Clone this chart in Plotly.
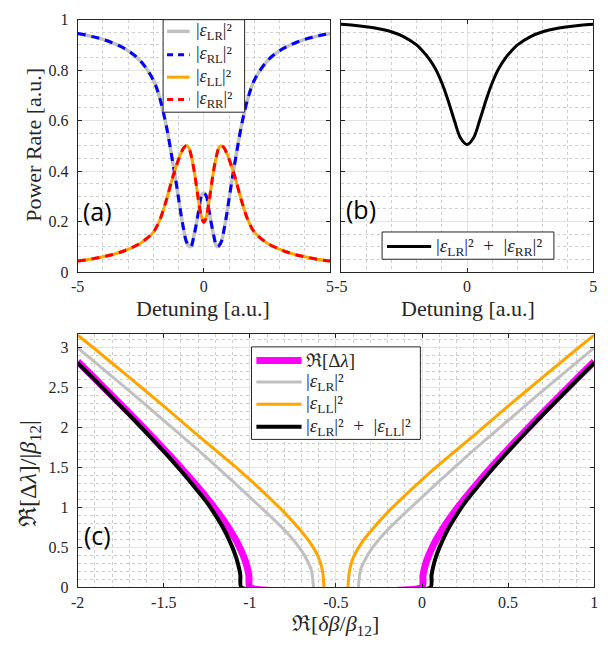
import plotly.graph_objects as go

# ---------------- Panel (a) data ----------------
det_a = [-5, -4.5, -4, -3.5, -3, -2.5, -2, -1.75, -1.5, -1.25, -1.1, -1.0, -0.9, -0.8, -0.7, -0.6, -0.55, -0.5,
         -0.4, -0.3, -0.2, -0.1, 0, 0.1, 0.2, 0.3, 0.4, 0.5, 0.55, 0.6, 0.7, 0.8, 0.9, 1.0, 1.1, 1.25, 1.5,
         1.75, 2, 2.5, 3, 3.5, 4, 4.5, 5]
p_lr = [0.945, 0.935, 0.922, 0.903, 0.877, 0.835, 0.76, 0.69, 0.585, 0.445, 0.355, 0.29, 0.225, 0.168, 0.122, 0.104, 0.10, 0.102,
        0.14, 0.19, 0.245, 0.30, 0.313, 0.30, 0.245, 0.19, 0.14, 0.102, 0.10, 0.104, 0.122, 0.168, 0.225, 0.29, 0.355, 0.445, 0.585,
        0.69, 0.76, 0.835, 0.877, 0.903, 0.922, 0.935, 0.945]
p_rl = list(p_lr)
p_ll = [0.043, 0.05, 0.06, 0.072, 0.09, 0.115, 0.158, 0.205, 0.28, 0.37, 0.418, 0.447, 0.472, 0.492, 0.50, 0.493, 0.48, 0.46,
        0.41, 0.345, 0.275, 0.22, 0.197, 0.22, 0.275, 0.345, 0.41, 0.46, 0.48, 0.493, 0.50, 0.492, 0.472, 0.447, 0.418, 0.37, 0.28,
        0.205, 0.158, 0.115, 0.09, 0.072, 0.06, 0.05, 0.043]
p_rr = list(p_ll)

# ---------------- Panel (b) data ----------------
det_b = [-5, -4.5, -4, -3.5, -3, -2.5, -2, -1.75, -1.5, -1.25, -1, -0.75, -0.5, -0.25, 0,
         0.25, 0.5, 0.75, 1, 1.25, 1.5, 1.75, 2, 2.5, 3, 3.5, 4, 4.5, 5]
p_sum = [0.982, 0.978, 0.972, 0.964, 0.952, 0.932, 0.90, 0.875, 0.845, 0.805, 0.75, 0.68, 0.60, 0.53, 0.505,
         0.53, 0.60, 0.68, 0.75, 0.805, 0.845, 0.875, 0.90, 0.932, 0.952, 0.964, 0.972, 0.978, 0.982]

# ---------------- Panel (c) data ----------------
db_mag = [-2, -1.9, -1.8, -1.7, -1.6, -1.5, -1.4, -1.3, -1.25, -1.2, -1.15, -1.1, -1.08, -1.05, -1.03, -1.02, -1.01, -1.005, -1.0,
          0.0, 0.005, 0.01, 0.02, 0.03, 0.05, 0.08, 0.1, 0.15, 0.2, 0.25, 0.3, 0.4, 0.5, 0.6, 0.7, 0.8, 0.9, 1.0]
re_dl = [2.828, 2.615, 2.400, 2.182, 1.960, 1.732, 1.497, 1.249, 1.118, 0.980, 0.831, 0.663, 0.588, 0.458, 0.352, 0.286, 0.201, 0.142, 0,
         0, 0.142, 0.201, 0.286, 0.352, 0.458, 0.588, 0.663, 0.831, 0.980, 1.118, 1.249, 1.497, 1.732, 1.960, 2.182, 2.400, 2.615, 2.828]

db_lr = [-2, -1.9, -1.7, -1.5, -1.3, -1.1, -1.0, -0.9, -0.8, -0.75, -0.7, -0.67, -0.65, -0.64, -0.63, None,
         -0.37, -0.36, -0.35, -0.33, -0.3, -0.25, -0.2, -0.1, 0, 0.1, 0.3, 0.5, 0.7, 0.9, 1.0]
c_lr = [3.0, 2.82, 2.46, 2.09, 1.72, 1.33, 1.13, 0.93, 0.72, 0.60, 0.46, 0.35, 0.26, 0.19, 0, None,
        0, 0.19, 0.26, 0.35, 0.46, 0.60, 0.72, 0.93, 1.13, 1.33, 1.72, 2.09, 2.46, 2.82, 3.0]

db_ll = [-2, -1.9, -1.7, -1.5, -1.3, -1.1, -1.0, -0.9, -0.8, -0.7, -0.65, -0.6, -0.585, -0.575, -0.57, None,
         -0.43, -0.425, -0.415, -0.4, -0.35, -0.3, -0.2, -0.1, 0.0, 0.1, 0.3, 0.5, 0.7, 0.9, 1.0]
c_ll = [3.16, 2.985, 2.63, 2.27, 1.90, 1.54, 1.35, 1.15, 0.94, 0.70, 0.56, 0.37, 0.27, 0.16, 0, None,
        0, 0.16, 0.27, 0.37, 0.56, 0.70, 0.94, 1.15, 1.35, 1.54, 1.90, 2.27, 2.63, 2.985, 3.16]

db_sum = [-2, -1.9, -1.8, -1.7, -1.6, -1.5, -1.4, -1.3, -1.25, -1.2, -1.15, -1.1, -1.08, -1.07, -1.06, -1.055, -1.05,
          0.05, 0.055, 0.06, 0.07, 0.08, 0.1, 0.15, 0.2, 0.25, 0.3, 0.4, 0.5, 0.6, 0.7, 0.8, 0.9, 1.0]
c_sum = [2.812, 2.598, 2.380, 2.160, 1.935, 1.703, 1.460, 1.200, 1.065, 0.905, 0.725, 0.495, 0.375, 0.303, 0.213, 0.150, 0,
         0, 0.150, 0.213, 0.303, 0.375, 0.495, 0.725, 0.905, 1.065, 1.200, 1.460, 1.703, 1.935, 2.160, 2.380, 2.598, 2.812]

# tick labels
a_xticks = [-5, 0, 5]
a_xtext = ["-5", "0", "5"]
a_yticks = [0, 0.2, 0.4, 0.6, 0.8, 1]
a_ytext = ["0", "0.2", "0.4", "0.6", "0.8", "1"]
c_xticks = [-2, -1.5, -1, -0.5, 0, 0.5, 1]
c_xtext = ["-2", "-1.5", "-1", "-0.5", "0", "0.5", "1"]
c_yticks = [0, 0.5, 1, 1.5, 2, 2.5, 3]
c_ytext = ["0", "0.5", "1", "1.5", "2", "2.5", "3"]

SERIF = "Liberation Serif, Times New Roman, serif"
SANS = "Open Sans"
AX = "#262626"
GRID = "#e3e3e3"
MINOR = "#cfcfcf"
GRAY = "#c0c0c0"
BLUE = "#0000ff"
ORANGE = "#ffa500"
RED = "#ff0000"
MAGENTA = "#ff00ff"
DASH = "8px,6px"

def lr(s):
    return "|<i>ε</i><sub>%s</sub>|²" % s

PLUS = "\u2002+\u2002"
names_a = [lr("LR"), lr("RL"), lr("LL"), lr("RR")]
names_b = [lr("LR") + PLUS + lr("RR")]
names_c = ["ℜ[Δ<i>λ</i>]", lr("LR"), lr("LL"), lr("LR") + PLUS + lr("LL")]

fig = go.Figure()

# panel a
fig.add_trace(go.Scatter(x=det_a, y=p_lr, mode="lines", name=names_a[0], line=dict(color=GRAY, width=3.5, shape="spline"),
                         xaxis="x", yaxis="y"))
fig.add_trace(go.Scatter(x=det_a, y=p_rl, mode="lines", name=names_a[1], line=dict(color=BLUE, width=3, dash=DASH, shape="spline"),
                         xaxis="x", yaxis="y"))
fig.add_trace(go.Scatter(x=det_a, y=p_ll, mode="lines", name=names_a[2], line=dict(color=ORANGE, width=3, shape="spline"),
                         xaxis="x", yaxis="y"))
fig.add_trace(go.Scatter(x=det_a, y=p_rr, mode="lines", name=names_a[3], line=dict(color=RED, width=3, dash=DASH, shape="spline"),
                         xaxis="x", yaxis="y"))
# panel b
fig.add_trace(go.Scatter(x=det_b, y=p_sum, mode="lines", name=names_b[0],
                         line=dict(color="black", width=3, shape="spline"), xaxis="x2", yaxis="y2"))
# panel c
fig.add_trace(go.Scatter(x=db_mag, y=re_dl, mode="lines", name=names_c[0], line=dict(color=MAGENTA, width=7, shape="spline", smoothing=0.5),
                         xaxis="x3", yaxis="y3"))
fig.add_trace(go.Scatter(x=db_lr, y=c_lr, mode="lines", name=names_c[1], line=dict(color=GRAY, width=3, shape="spline", smoothing=0.6),
                         xaxis="x3", yaxis="y3", connectgaps=False))
fig.add_trace(go.Scatter(x=db_ll, y=c_ll, mode="lines", name=names_c[2], line=dict(color=ORANGE, width=3, shape="spline", smoothing=0.6),
                         xaxis="x3", yaxis="y3", connectgaps=False))
fig.add_trace(go.Scatter(x=db_sum, y=c_sum, mode="lines", name=names_c[3], line=dict(color="black", width=4, shape="spline", smoothing=0.5),
                         xaxis="x3", yaxis="y3"))

def axis(**kw):
    d = dict(showline=True, linecolor=AX, linewidth=1, mirror="ticks", ticks="inside", ticklen=4, tickcolor=AX,
             showgrid=True, gridcolor=GRID, gridwidth=1, zeroline=False,
             tickfont=dict(family=SERIF, size=16, color=AX), ticklabelstandoff=0)
    d.update(kw)
    return d

W, H = 608, 649
def px(x):
    return x / W
def py(y):
    return 1 - y / H

ya_dom = [0.5824, 0.9815]
yc_dom = [0.0832, 0.4838]
fig.update_layout(
    width=W, height=H, margin=dict(l=0, r=0, t=0, b=0),
    paper_bgcolor="white", plot_bgcolor="white", showlegend=False,
    xaxis=axis(domain=[0.1184, 0.5411], range=[-5, 5], anchor="y", tickvals=a_xticks, ticktext=a_xtext,
               minor=dict(dtick=1, showgrid=True, gridcolor=MINOR, griddash="dot", gridwidth=1)),
    yaxis=axis(domain=ya_dom, range=[0, 1], anchor="x", tickvals=a_yticks, ticktext=a_ytext, ticklabelstandoff=5,
               minor=dict(dtick=0.05, showgrid=True, gridcolor=MINOR, griddash="dot", gridwidth=1)),
    xaxis2=axis(domain=[0.5592, 0.9819], range=[-5, 5], anchor="y2", tickvals=a_xticks, ticktext=a_xtext,
                minor=dict(dtick=1, showgrid=True, gridcolor=MINOR, griddash="dot", gridwidth=1)),
    yaxis2=axis(domain=ya_dom, range=[0, 1], anchor="x2", tickvals=a_yticks, showticklabels=False,
                minor=dict(dtick=0.05, showgrid=True, gridcolor=MINOR, griddash="dot", gridwidth=1)),
    xaxis3=axis(domain=[0.1184, 0.9836], range=[-2, 1], anchor="y3", tickvals=c_xticks, ticktext=c_xtext,
                minor=dict(dtick=0.1, showgrid=True, gridcolor=MINOR, griddash="dot", gridwidth=1)),
    yaxis3=axis(domain=yc_dom, range=[0, 3.17], anchor="x3", tickvals=c_yticks, ticktext=c_ytext, ticklabelstandoff=5,
                minor=dict(dtick=0.1, showgrid=True, gridcolor=MINOR, griddash="dot", gridwidth=1)),
)

# ----- hand-made legend boxes (MATLAB style) -----
shapes = []
ann = []

def legend_box(box, rows, line_x, text_x, styles, names, size):
    x0, y0, x1, y1 = box
    shapes.append(dict(type="rect", xref="paper", yref="paper", x0=px(x0), x1=px(x1), y0=py(y1), y1=py(y0),
                       line=dict(color=AX, width=1), fillcolor="white", layer="above"))
    for ry, st, nm in zip(rows, styles, names):
        shapes.append(dict(type="line", xref="paper", yref="paper", x0=px(line_x[0]), x1=px(line_x[1]),
                           y0=py(ry), y1=py(ry), line=st, layer="above"))
        ann.append(dict(text=nm, x=px(text_x), y=py(ry), xanchor="left", yanchor="middle",
                        font=dict(family=SERIF, size=size, color=AX)))

legend_box((159, 12, 242, 107), [24, 48, 71, 94], (163, 186), 190,
           [dict(color=GRAY, width=3.5), dict(color=BLUE, width=3, dash="6px,5px"),
            dict(color=ORANGE, width=3), dict(color=RED, width=3, dash="6px,5px")], names_a, 18)
legend_box((382, 230, 557, 258), [245], (387, 432), 435, [dict(color="black", width=3)], names_b, 19)
legend_box((249, 348, 421, 443), [362, 384, 407, 430], (254, 300), 302,
           [dict(color=MAGENTA, width=7), dict(color=GRAY, width=3), dict(color=ORANGE, width=3),
            dict(color="black", width=4)], names_c, 19)

ann += [
    dict(text="(a)", x=px(92), y=py(208), font=dict(family=SANS, size=25, color="black")),
    dict(text="(b)", x=px(361), y=py(206), font=dict(family=SANS, size=25, color="black")),
    dict(text="(c)", x=px(92), y=py(541), font=dict(family=SANS, size=25, color="black")),
    dict(text="Power Rate [a.u.]", x=px(27), y=py(141), textangle=-90, font=dict(family=SERIF, size=22, color=AX)),
    dict(text="Detuning [a.u.]", x=px(200), y=py(309), font=dict(family=SERIF, size=22, color=AX)),
    dict(text="Detuning [a.u.]", x=px(469), y=py(309), font=dict(family=SERIF, size=22, color=AX)),
    dict(text="ℜ[<i>δβ</i>/<i>β</i><sub>12</sub>]", x=px(335), y=py(634), font=dict(family=SERIF, size=22, color=AX)),
    dict(text="ℜ[Δ<i>λ</i>]/|<i>β</i><sub>12</sub>|", x=px(24), y=py(478), textangle=-90, font=dict(family=SERIF, size=24, color=AX)),
]
for a in ann:
    a.update(xref="paper", yref="paper", showarrow=False)
    a.setdefault("xanchor", "center")
    a.setdefault("yanchor", "middle")
fig.update_layout(shapes=shapes, annotations=ann)

fig.write_html("out.html")
